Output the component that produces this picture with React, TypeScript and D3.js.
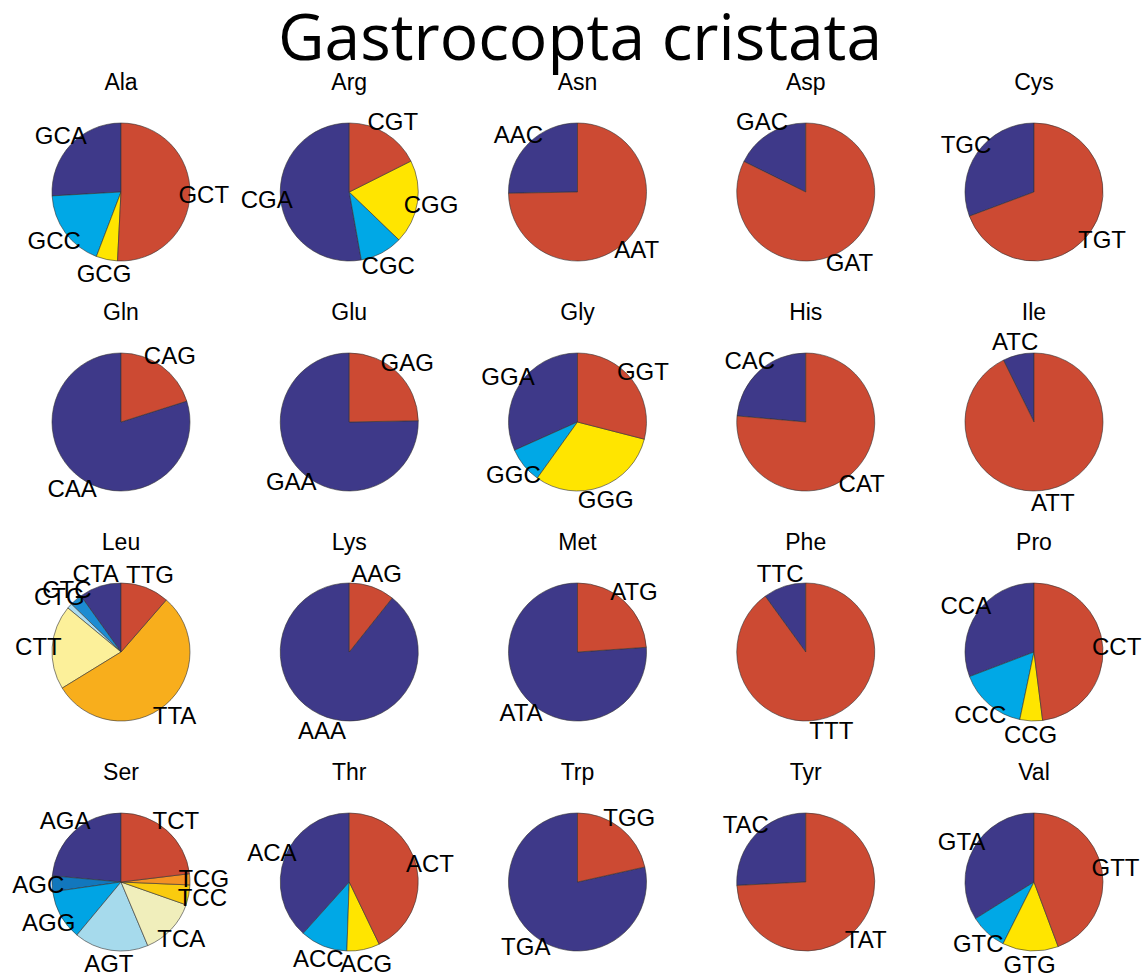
import React from "react";
import * as d3 from "d3";

const TITLE = "Gastrocopta cristata";
const aminoAcids = ["Ala", "Arg", "Asn", "Asp", "Cys", "Gln", "Glu", "Gly", "His", "Ile", "Leu", "Lys", "Met", "Phe", "Pro", "Ser", "Thr", "Trp", "Tyr", "Val"];

const alaCodons = ["GCA", "GCC", "GCG", "GCT"];
const alaValues = [25.9, 18.3, 5.0, 50.8];
const argCodons = ["CGA", "CGC", "CGG", "CGT"];
const argValues = [52.8, 10.0, 19.6, 17.6];
const asnCodons = ["AAC", "AAT"];
const asnValues = [25.3, 74.7];
const aspCodons = ["GAC", "GAT"];
const aspValues = [17.7, 82.3];
const cysCodons = ["TGC", "TGT"];
const cysValues = [30.7, 69.3];
const glnCodons = ["CAA", "CAG"];
const glnValues = [79.9, 20.1];
const gluCodons = ["GAA", "GAG"];
const gluValues = [75.3, 24.7];
const glyCodons = ["GGA", "GGC", "GGG", "GGT"];
const glyValues = [31.7, 8.4, 30.9, 29.0];
const hisCodons = ["CAC", "CAT"];
const hisValues = [23.6, 76.4];
const ileCodons = ["ATC", "ATT"];
const ileValues = [7.3, 92.7];
const leuCodons = ["CTA", "CTC", "CTG", "CTT", "TTA", "TTG"];
const leuValues = [9.9, 2.9, 1.2, 19.8, 54.9, 11.4];
const lysCodons = ["AAA", "AAG"];
const lysValues = [89.3, 10.7];
const metCodons = ["ATA", "ATG"];
const metValues = [76.1, 23.9];
const pheCodons = ["TTC", "TTT"];
const pheValues = [10.0, 90.0];
const proCodons = ["CCA", "CCC", "CCG", "CCT"];
const proValues = [30.8, 15.9, 5.3, 48.0];
const serCodons = ["AGA", "AGC", "AGG", "AGT", "TCA", "TCC", "TCG", "TCT"];
const serValues = [23.6, 3.7, 11.7, 17.4, 13.3, 4.7, 2.6, 23.1];
const thrCodons = ["ACA", "ACC", "ACG", "ACT"];
const thrValues = [38.4, 11.1, 7.7, 42.9];
const trpCodons = ["TGA", "TGG"];
const trpValues = [78.5, 21.5];
const tyrCodons = ["TAC", "TAT"];
const tyrValues = [25.8, 74.2];
const valCodons = ["GTA", "GTC", "GTG", "GTT"];
const valValues = [33.9, 8.7, 13.1, 44.3];

const codonLists = [alaCodons, argCodons, asnCodons, aspCodons, cysCodons, glnCodons, gluCodons, glyCodons, hisCodons, ileCodons, leuCodons, lysCodons, metCodons, pheCodons, proCodons, serCodons, thrCodons, trpCodons, tyrCodons, valCodons];
const valueLists = [alaValues, argValues, asnValues, aspValues, cysValues, glnValues, gluValues, glyValues, hisValues, ileValues, leuValues, lysValues, metValues, pheValues, proValues, serValues, thrValues, trpValues, tyrValues, valValues];

const palettes: Record<number, string[]> = {
  2: ["#3E3989", "#CC4A33"],
  4: ["#3E3989", "#00A8E6", "#FFE500", "#CC4A33"],
  6: ["#3E3989", "#1C8CD2", "#A9DCF2", "#FCF09A", "#F8AE1C", "#CC4A33"],
  8: ["#3E3989", "#1277BD", "#00A4E4", "#A6DAEC", "#F0EEBB", "#FACB0E", "#F39125", "#CC4A33"],
};

const W = 1143;
const H = 979;
const R = 69;
const LABEL_FONT = "'Liberation Sans', Arial, Helvetica, sans-serif";

export default function App() {
  const x = d3.scalePoint<number>().domain(d3.range(5)).range([121, 1034]);
  const y = d3.scalePoint<number>().domain(d3.range(4)).range([192, 882]);
  const arc = d3.arc<d3.PieArcDatum<number>>().innerRadius(0).outerRadius(R);
  const pie = d3.pie<number>().sort(null).value((d) => d).startAngle(0).endAngle(-2 * Math.PI);

  return (
    <svg width={W} height={H} style={{ position: "absolute", left: 0, top: 0, background: "#fff" }}>
      <rect width={W} height={H} fill="#fff" />
      <text x={580} y={60} textAnchor="middle" fontFamily="'Open Sans', 'Noto Sans', sans-serif" fontWeight={500} fontSize={64} textLength={604} lengthAdjust="spacingAndGlyphs" fill="#000">
        {TITLE}
      </text>
      {aminoAcids.map((aa, i) => {
        const cx = x(i % 5)!;
        const cy = y(Math.floor(i / 5))!;
        const values = valueLists[i];
        const codons = codonLists[i];
        const colors = palettes[values.length];
        const arcs = pie(values);
        return (
          <g key={aa}>
            <text x={cx} y={cy - 102} textAnchor="middle" fontFamily={LABEL_FONT} fontSize={23} fill="#000">
              {aa}
            </text>
            <g transform={`translate(${cx},${cy})`}>
              {arcs.map((a, j) => (
                <path key={j} d={arc(a) || ""} fill={colors[j]} stroke="#333" strokeWidth={0.6} />
              ))}
              {arcs.map((a, j) => {
                const mid = (a.startAngle + a.endAngle) / 2;
                const lx = Math.sin(mid) * R * 1.2;
                const ly = -Math.cos(mid) * R * 1.2;
                return (
                  <text key={"t" + j} x={lx} y={ly} textAnchor="middle" dominantBaseline="central" fontFamily={LABEL_FONT} fontSize={24} fill="#000">
                    {codons[j]}
                  </text>
                );
              })}
            </g>
          </g>
        );
      })}
    </svg>
  );
}
